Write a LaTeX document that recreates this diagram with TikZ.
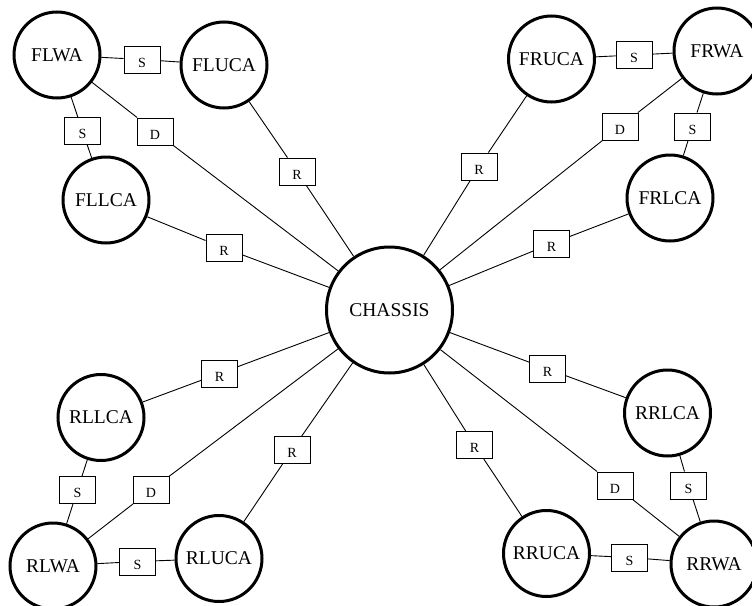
\documentclass[tikz,border=0pt]{standalone}
\usepackage{fontspec}
\setmainfont{Liberation Serif}
\begin{document}
\begin{tikzpicture}[x=1pt,y=-1pt,
  part/.style={circle,draw,line width=3pt,minimum size=86pt,inner sep=0pt,font=\fontsize{19.5pt}{20pt}\selectfont},
  hub/.style={part,minimum size=126pt},
  joint/.style={draw,line width=0.9pt,minimum width=36pt,minimum height=27pt,inner sep=0pt,fill=white,
    font=\fontsize{14pt}{15pt}\selectfont,text height=15pt,text depth=0pt},
  link/.style={line width=0.9pt}]
\useasboundingbox (0,0) rectangle (752,605);
\clip (0,0) rectangle (752,605);
% parts
\node[part] (FLWA) at (57,55) {FLWA};
\node[part] (FLUCA) at (224,65) {FLUCA};
\node[part] (FLLCA) at (106,200) {FLLCA};
\node[part] (FRUCA) at (551.5,59) {FRUCA};
\node[part] (FRWA) at (717,51) {FRWA};
\node[part] (FRLCA) at (670,198) {FRLCA};
\node[hub] (CH) at (389.5,310) {CHASSIS};
\node[part] (RLLCA) at (101,417.5) {RLLCA};
\node[part] (RLWA) at (53,566) {RLWA};
\node[part] (RLUCA) at (219,558.5) {RLUCA};
\node[part] (RRUCA) at (546.5,553.5) {RRUCA};
\node[part] (RRWA) at (714,564) {RRWA};
\node[part] (RRLCA) at (667.5,413) {RRLCA};
% joints
\node[joint] (s1) at (142,59.5) {S};
\node[joint] (s2) at (82.5,131) {S};
\node[joint] (d1) at (155,131.5) {D};
\node[joint] (r1) at (297,171.5) {R};
\node[joint] (r2) at (224,248) {R};
\node[joint] (s3) at (634,55) {S};
\node[joint] (d2) at (620,126.5) {D};
\node[joint] (s4) at (692.5,126.5) {S};
\node[joint] (r3) at (479,166.5) {R};
\node[joint] (r4) at (551.5,243.5) {R};
\node[joint] (r5) at (219.5,373.5) {R};
\node[joint] (r6) at (292,450) {R};
\node[joint] (s5) at (77.5,490) {S};
\node[joint] (d3) at (151,490) {D};
\node[joint] (s6) at (137.5,561.5) {S};
\node[joint] (r7) at (547.5,369) {R};
\node[joint] (r8) at (474.5,445) {R};
\node[joint] (d4) at (615,485.5) {D};
\node[joint] (s7) at (688.5,485.5) {S};
\node[joint] (s8) at (629.5,557.5) {S};
% links
\draw[link] (FLWA) -- (s1); \draw[link] (s1) -- (FLUCA);
\draw[link] (FLWA) -- (s2); \draw[link] (s2) -- (FLLCA);
\draw[link] (FLWA) -- (d1); \draw[link] (d1) -- (CH);
\draw[link] (FLUCA) -- (r1); \draw[link] (r1) -- (CH);
\draw[link] (FLLCA) -- (r2); \draw[link] (r2) -- (CH);
\draw[link] (FRUCA) -- (s3); \draw[link] (s3) -- (FRWA);
\draw[link] (FRWA) -- (d2); \draw[link] (d2) -- (CH);
\draw[link] (FRWA) -- (s4); \draw[link] (s4) -- (FRLCA);
\draw[link] (FRUCA) -- (r3); \draw[link] (r3) -- (CH);
\draw[link] (FRLCA) -- (r4); \draw[link] (r4) -- (CH);
\draw[link] (RLLCA) -- (r5); \draw[link] (r5) -- (CH);
\draw[link] (RLUCA) -- (r6); \draw[link] (r6) -- (CH);
\draw[link] (RLLCA) -- (s5); \draw[link] (s5) -- (RLWA);
\draw[link] (RLWA) -- (d3); \draw[link] (d3) -- (CH);
\draw[link] (RLWA) -- (s6); \draw[link] (s6) -- (RLUCA);
\draw[link] (RRLCA) -- (r7); \draw[link] (r7) -- (CH);
\draw[link] (RRUCA) -- (r8); \draw[link] (r8) -- (CH);
\draw[link] (RRWA) -- (d4); \draw[link] (d4) -- (CH);
\draw[link] (RRLCA) -- (s7); \draw[link] (s7) -- (RRWA);
\draw[link] (RRUCA) -- (s8); \draw[link] (s8) -- (RRWA);
\end{tikzpicture}
\end{document}
